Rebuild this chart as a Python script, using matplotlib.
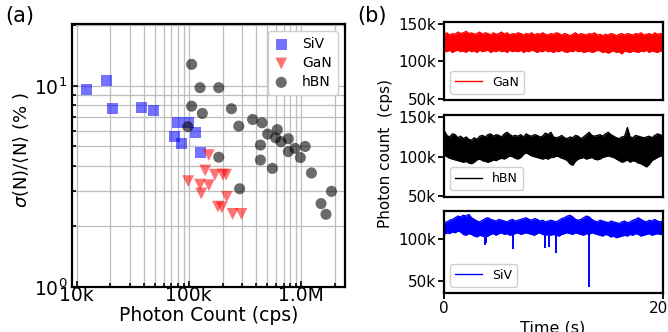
import numpy as np
import matplotlib
matplotlib.use("Agg")
import matplotlib.pyplot as plt
from matplotlib.ticker import LogLocator, NullFormatter, FixedLocator

# ---- (a) scatter data: photon count (kcps) vs relative fluctuation (%) ----
siv_x = [12.2, 18.6, 20.9, 37.9, 48.5, 79, 100, 114, 74.5, 85.5, 127]
siv_y = [9.55, 10.6, 7.7, 7.78, 7.52, 6.6, 6.6, 5.85, 5.59, 5.18, 4.67]

gan_x = [151, 98.7, 140, 126, 151, 129, 171, 201, 215, 218, 182, 197, 246, 295]
gan_y = [4.53, 3.36, 3.80, 3.23, 3.21, 2.92, 3.62, 3.62, 3.62, 2.81, 2.51, 2.49, 2.31, 2.31]

hbn_x = [106, 126, 185, 106, 132, 240, 98, 279, 371, 450, 505, 615, 595, 664,
         771, 771, 885, 1090, 987, 435, 435, 556, 185, 284, 1240, 1870, 1510, 1670]
hbn_y = [12.8, 9.8, 9.8, 7.93, 7.3, 7.7, 6.27, 6.31, 6.81, 6.56, 5.76, 6.06, 5.52, 5.28,
         5.46, 4.71, 4.89, 5.0, 4.40, 5.08, 4.28, 3.89, 4.42, 3.08, 3.69, 2.99, 2.60, 2.30]

# ---- (b) time traces: upper / lower envelope of the count rate (kcps), every 2.5 s ----
t_step = 2.5
gan_hi = [136, 138, 135, 137, 136, 139, 137, 138, 140, 137,
          138, 136, 137, 139, 136, 138, 137, 135, 138, 136,
          137, 139, 136, 138, 135, 137, 136, 138, 137, 135,
          137, 136, 138, 135, 137, 136, 138, 136, 135, 137,
          136, 138, 137, 135, 137, 136, 134, 136, 138, 135,
          137, 136, 135, 137, 136, 138, 135, 136, 134, 136,
          135, 137, 136, 134, 136, 137, 135, 137, 136, 135,
          137, 136, 138, 135, 136, 137, 135, 138, 136, 137,
          136]
gan_lo = [114, 113, 115, 112, 114, 115, 113, 114, 112, 115,
          113, 114, 112, 115, 113, 114, 115, 112, 114, 113,
          115, 113, 114, 112, 115, 113, 114, 113, 115, 112,
          114, 113, 115, 114, 112, 114, 113, 115, 113, 114,
          112, 114, 113, 115, 113, 112, 114, 113, 115, 113,
          114, 112, 113, 114, 112, 113, 115, 114, 112, 113,
          111, 113, 114, 112, 113, 110, 114, 113, 112, 114,
          113, 112, 114, 113, 115, 112, 114, 113, 112, 114,
          113]

hbn_hi = [133, 127, 125, 129, 128, 124, 126, 123, 125, 122,
          121, 124, 122, 126, 127, 125, 128, 129, 126, 128,
          127, 125, 129, 131, 128, 126, 127, 126, 128, 125,
          129, 127, 126, 128, 127, 125, 126, 130, 128, 131,
          125, 124, 125, 127, 124, 123, 125, 124, 127, 126,
          123, 125, 128, 131, 127, 126, 127, 128, 126, 129,
          131, 128, 126, 124, 123, 125, 126, 137, 125, 124,
          127, 126, 125, 124, 125, 126, 124, 127, 129, 128,
          126]
hbn_lo = [102, 100, 98, 97, 96, 95, 94, 93, 94, 92,
          91, 93, 96, 97, 95, 94, 93, 94, 96, 95,
          97, 98, 97, 99, 101, 100, 98, 97, 99, 103,
          105, 103, 101, 100, 99, 98, 97, 98, 97, 99,
          99, 101, 100, 98, 97, 95, 91, 89, 94, 97,
          98, 99, 97, 98, 99, 97, 96, 97, 99, 100,
          101, 100, 99, 97, 95, 93, 94, 96, 93, 95,
          94, 92, 91, 89, 87, 90, 95, 97, 99, 101,
          100]

siv_hi = [120, 121, 123, 124, 126, 128, 127, 129, 128, 130,
          126, 124, 122, 121, 123, 125, 126, 124, 123, 122,
          124, 123, 122, 121, 123, 124, 122, 123, 124, 125,
          126, 124, 123, 125, 124, 122, 123, 121, 122, 123,
          122, 121, 123, 125, 126, 128, 129, 127, 124, 123,
          124, 126, 128, 127, 124, 122, 121, 123, 122, 121,
          120, 122, 121, 120, 119, 121, 122, 120, 121, 123,
          124, 126, 124, 122, 121, 123, 122, 124, 122, 121,
          122]
siv_lo = [106, 108, 107, 109, 108, 110, 109, 106, 105, 107,
          106, 104, 103, 105, 104, 103, 104, 106, 107, 105,
          107, 108, 106, 107, 105, 106, 107, 108, 106, 107,
          108, 107, 106, 105, 107, 108, 106, 105, 106, 105,
          106, 105, 104, 106, 107, 108, 107, 106, 108, 107,
          106, 105, 107, 106, 108, 107, 106, 105, 104, 106,
          105, 103, 104, 102, 103, 104, 105, 104, 106, 105,
          107, 106, 104, 105, 106, 107, 105, 106, 107, 106,
          106]
# short blinking dips in the SiV trace
siv_dip_t = [37, 38, 63, 92.5, 95.5, 102.5, 132.5]
siv_dip_min = [93, 95, 88, 89, 91, 83, 43]

fig = plt.figure(figsize=(6.68, 3.32), dpi=100)

# ================= (a) =================
ax = fig.add_axes([0.1078, 0.1355, 0.4087, 0.792])
ax.scatter(np.array(siv_x) * 1e3, siv_y, marker='s', s=64, color='blue', alpha=0.55,
           edgecolors='none', label='SiV', zorder=3)
ax.scatter(np.array(gan_x) * 1e3, gan_y, marker='v', s=72, color='red', alpha=0.55,
           edgecolors='none', label='GaN', zorder=3)
ax.scatter(np.array(hbn_x) * 1e3, hbn_y, marker='o', s=64, color='black', alpha=0.58,
           edgecolors='none', label='hBN', zorder=3)
ax.set_xscale('log')
ax.set_yscale('log')
ax.set_xlim(9.1e3, 2.47e6)
ax.set_ylim(1, 20.3)
ax.set_xticks([1e4, 1e5, 1e6], ['10k', '100k', '1.0M'])
ax.xaxis.set_minor_locator(LogLocator(base=10, subs=np.arange(2, 10)))
ax.xaxis.set_minor_formatter(NullFormatter())
ax.yaxis.set_minor_locator(LogLocator(base=10, subs=np.arange(2, 10)))
ax.yaxis.set_minor_formatter(NullFormatter())
ax.grid(True, which='both', color='#bdbdbd', linewidth=0.9)
ax.set_axisbelow(True)
ax.tick_params(which='both', direction='in', labelsize=13.5, width=1.2)
ax.tick_params(axis='x', pad=-1)
ax.tick_params(which='major', length=4)
ax.tick_params(which='minor', length=3)
for sp in ax.spines.values():
    sp.set_linewidth(1.6)
ax.set_xlabel('Photon Count (cps)', fontsize=13.5, labelpad=1)
ax.set_ylabel(r'$\sigma$(N)/$\langle$N$\rangle$ (% )', fontsize=13)
ax.yaxis.set_label_coords(-0.15, 0.52)
ax.legend(loc='upper right', fontsize=10, handlelength=1.0, handletextpad=1.0,
          labelspacing=0.35, borderpad=0.45, framealpha=1, edgecolor='#d0d0d0',
          scatterpoints=1)
fig.text(20 / 668, 1 - 16 / 332, '(a)', fontsize=15, ha='center', va='center')

# ================= (b) =================
t = np.arange(len(gan_hi)) * t_step
panels = [
    ([0.665, 0.699, 0.3274, 0.236], gan_hi, gan_lo, 'red', 'GaN', (48.7, 153)),
    ([0.665, 0.4075, 0.3274, 0.246], hbn_hi, hbn_lo, 'black', 'hBN', (49, 153)),
    ([0.665, 0.118, 0.3274, 0.246], siv_hi, siv_lo, 'blue', 'SiV', (35.5, 134)),
]
for i, (rect, hi, lo, col, name, ylim) in enumerate(panels):
    bx = fig.add_axes(rect)
    bx.fill_between(t, lo, hi, color=col, linewidth=0)
    bx.plot(t, hi, color=col, linewidth=1.0, label=name)
    bx.plot(t, lo, color=col, linewidth=1.0)
    if name == 'SiV':
        bx.vlines(siv_dip_t, siv_dip_min, 106, color=col, linewidth=1.4)
    bx.set_xlim(0, 200)
    bx.set_ylim(*ylim)
    if name == 'SiV':
        bx.set_yticks([50, 100], ['50k', '100k'])
        bx.set_xticks([0, 200], ['0', '200'])
    else:
        bx.set_yticks([50, 100, 150], ['50k', '100k', '150k'])
        bx.set_xticks([])
    bx.tick_params(labelsize=11, width=1.3, length=4, pad=2)
    for sp in bx.spines.values():
        sp.set_linewidth(1.6)
    bx.legend(loc='lower left', fontsize=9, handlelength=2.1, handletextpad=0.85,
              borderpad=0.4, borderaxespad=0.5, framealpha=1, edgecolor='#d0d0d0')

fig.text(386 / 668, 1 - 153.5 / 332, 'Photon count  (cps)', fontsize=11, rotation=90,
         ha='center', va='center')
fig.text(553 / 668, 1 - 328 / 332, 'Time (s)', fontsize=11.5, ha='center', va='center')
fig.text(372 / 668, 1 - 16 / 332, '(b)', fontsize=15, ha='center', va='center')

fig.savefig('out.png', dpi=100)
